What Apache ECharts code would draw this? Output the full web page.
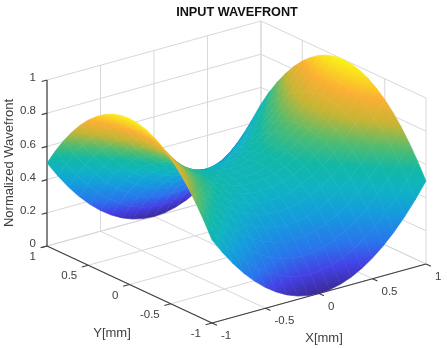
<!DOCTYPE html>
<html><head><meta charset="utf-8">
<style>html,body{margin:0;padding:0;background:#fff}#c{width:447px;height:348px;filter:blur(.5px)}</style>
<script src="https://cdn.jsdelivr.net/npm/echarts@6/dist/echarts.min.js"></script>
</head><body><div id="c"></div>
<script>
const titleText = 'INPUT WAVEFRONT';
const xAxisName = 'X[mm]', yAxisName = 'Y[mm]', zAxisName = 'Normalized Wavefront';
const xTicks = [-1, -0.5, 0, 0.5, 1];
const yTicks = [-1, -0.5, 0, 0.5, 1];
const zTicks = [0, 0.2, 0.4, 0.6, 0.8, 1];
const xGrid = [-1,-.9,-.8,-.7,-.6,-.5,-.4,-.3,-.2,-.1,0,.1,.2,.3,.4,.5,.6,.7,.8,.9,1];
const yGrid = [1,.9,.8,.7,.6,.5,.4,.3,.2,.1,0,-.1,-.2,-.3,-.4,-.5,-.6,-.7,-.8,-.9,-1];
// One row per yGrid value, one column per xGrid value
const zValues = [
[.5,.405,.32,.245,.18,.125,.08,.045,.02,.005,0,.005,.02,.045,.08,.125,.18,.245,.32,.405,.5],
[.595,.5,.415,.34,.275,.22,.175,.14,.115,.1,.095,.1,.115,.14,.175,.22,.275,.34,.415,.5,.595],
[.68,.585,.5,.425,.36,.305,.26,.225,.2,.185,.18,.185,.2,.225,.26,.305,.36,.425,.5,.585,.68],
[.755,.66,.575,.5,.435,.38,.335,.3,.275,.26,.255,.26,.275,.3,.335,.38,.435,.5,.575,.66,.755],
[.82,.725,.64,.565,.5,.445,.4,.365,.34,.325,.32,.325,.34,.365,.4,.445,.5,.565,.64,.725,.82],
[.875,.78,.695,.62,.555,.5,.455,.42,.395,.38,.375,.38,.395,.42,.455,.5,.555,.62,.695,.78,.875],
[.92,.825,.74,.665,.6,.545,.5,.465,.44,.425,.42,.425,.44,.465,.5,.545,.6,.665,.74,.825,.92],
[.955,.86,.775,.7,.635,.58,.535,.5,.475,.46,.455,.46,.475,.5,.535,.58,.635,.7,.775,.86,.955],
[.98,.885,.8,.725,.66,.605,.56,.525,.5,.485,.48,.485,.5,.525,.56,.605,.66,.725,.8,.885,.98],
[.995,.9,.815,.74,.675,.62,.575,.54,.515,.5,.495,.5,.515,.54,.575,.62,.675,.74,.815,.9,.995],
[1,.905,.82,.745,.68,.625,.58,.545,.52,.505,.5,.505,.52,.545,.58,.625,.68,.745,.82,.905,1],
[.995,.9,.815,.74,.675,.62,.575,.54,.515,.5,.495,.5,.515,.54,.575,.62,.675,.74,.815,.9,.995],
[.98,.885,.8,.725,.66,.605,.56,.525,.5,.485,.48,.485,.5,.525,.56,.605,.66,.725,.8,.885,.98],
[.955,.86,.775,.7,.635,.58,.535,.5,.475,.46,.455,.46,.475,.5,.535,.58,.635,.7,.775,.86,.955],
[.92,.825,.74,.665,.6,.545,.5,.465,.44,.425,.42,.425,.44,.465,.5,.545,.6,.665,.74,.825,.92],
[.875,.78,.695,.62,.555,.5,.455,.42,.395,.38,.375,.38,.395,.42,.455,.5,.555,.62,.695,.78,.875],
[.82,.725,.64,.565,.5,.445,.4,.365,.34,.325,.32,.325,.34,.365,.4,.445,.5,.565,.64,.725,.82],
[.755,.66,.575,.5,.435,.38,.335,.3,.275,.26,.255,.26,.275,.3,.335,.38,.435,.5,.575,.66,.755],
[.68,.585,.5,.425,.36,.305,.26,.225,.2,.185,.18,.185,.2,.225,.26,.305,.36,.425,.5,.585,.68],
[.595,.5,.415,.34,.275,.22,.175,.14,.115,.1,.095,.1,.115,.14,.175,.22,.275,.34,.415,.5,.595],
[.5,.405,.32,.245,.18,.125,.08,.045,.02,.005,0,.005,.02,.045,.08,.125,.18,.245,.32,.405,.5]
];
const colorStops = ['#3a2a96','#4440e4','#2a74ec','#149cdc','#0fb2c4','#12b8a6','#50bc70','#c4b534','#fbaf32','#f9f414'];
const colorOffsets = [0, 0.1, 0.2, 0.34, 0.45, 0.55, 0.65, 0.76, 0.87, 1];

// Oblique view: data space -> plot units of the hidden cartesian axes
function project(x, y, z) {
  return [236.5 + 107 * x - 82.5 * y, 255 - 29.5 * x - 38.5 * y - 166 * z];
}
const stops = colorStops.map((c, i) => ({offset: colorOffsets[i], color: c}));
function colorAt(v) {
  v = Math.max(0, Math.min(1, v));
  let i = 0;
  while (i < colorOffsets.length - 2 && v > colorOffsets[i + 1]) i++;
  const a = echarts.color.parse(colorStops[i]), b = echarts.color.parse(colorStops[i + 1]);
  const f = (v - colorOffsets[i]) / (colorOffsets[i + 1] - colorOffsets[i]);
  return 'rgb(' + [0, 1, 2].map(k => Math.round(a[k] + (b[k] - a[k]) * f)).join(',') + ')';
}
// One linear colour ramp per cell, from the mean slope of its two screen diagonals
function cellPaint(P, V) {
  const [A, B, C, D] = P;
  const ux = (B[0] + C[0] - A[0] - D[0]) / 2, uy = (B[1] + C[1] - A[1] - D[1]) / 2;
  const vx = (D[0] + C[0] - A[0] - B[0]) / 2, vy = (D[1] + C[1] - A[1] - B[1]) / 2;
  const du = (V[1] + V[2] - V[0] - V[3]) / 2, dv = (V[3] + V[2] - V[0] - V[1]) / 2;
  const det = ux * vy - uy * vx, mean = (V[0] + V[1] + V[2] + V[3]) / 4;
  if (Math.abs(det) < 0.3) return colorAt(mean);
  const gx = (du * vy - dv * uy) / det, gy = (dv * ux - du * vx) / det, n = gx * gx + gy * gy;
  if (n < 1e-9) return colorAt(mean);
  const cx = (A[0] + B[0] + C[0] + D[0]) / 4, cy = (A[1] + B[1] + C[1] + D[1]) / 4;
  const s = -mean / n, e = (1 - mean) / n;
  return new echarts.graphic.LinearGradient(cx + gx * s, cy + gy * s, cx + gx * e, cy + gy * e, stops, true);
}

// Cells painted back to front
const cells = [];
for (let r = 0; r < yGrid.length - 1; r++)
  for (let c = xGrid.length - 2; c >= 0; c--) cells.push([r, c]);

function renderCell(params, api) {
  const r = api.value(0), c = api.value(1);
  const pt = (ri, ci) => api.coord(project(xGrid[ci], yGrid[ri], zValues[ri][ci]));
  const P = [pt(r, c), pt(r, c + 1), pt(r + 1, c + 1), pt(r + 1, c)];
  const V = [zValues[r][c], zValues[r][c + 1], zValues[r + 1][c + 1], zValues[r + 1][c]];
  const paint = cellPaint(P, V);
  return {type: 'polygon', shape: {points: P}, style: {fill: paint, stroke: paint, lineWidth: 0.6}};
}

// Box, wall grid and ticks
const grey = '#d8d8d8', dark = '#404040';
const segs = [];
zTicks.forEach(z => { segs.push([-1, 1, z, 1, 1, z, grey]); segs.push([1, 1, z, 1, -1, z, grey]); });
xTicks.forEach(x => { segs.push([x, 1, 0, x, -1, 0, grey]); segs.push([x, 1, 0, x, 1, 1, grey]); });
yTicks.forEach(y => { segs.push([-1, y, 0, 1, y, 0, grey]); segs.push([1, y, 0, 1, y, 1, grey]); });
segs.push([-1, 1, 0, -1, 1, 1, dark], [-1, 1, 0, -1, -1, 0, dark], [-1, -1, 0, 1, -1, 0, dark]);
zTicks.forEach(z => segs.push([-1, 1, z, -1.05, 1, z, dark]));
yTicks.forEach(y => segs.push([-1, y, 0, -1.06, y, 0, dark]));
xTicks.forEach(x => segs.push([x, -1, 0, x, -1.06, 0, dark]));

function renderSeg(params, api) {
  const s = segs[params.dataIndex];
  const a = api.coord(project(s[0], s[1], s[2])), b = api.coord(project(s[3], s[4], s[5]));
  return {type: 'line', shape: {x1: a[0], y1: a[1], x2: b[0], y2: b[1]},
    style: {stroke: s[6], lineWidth: s[6] === dark ? 1.2 : 1}};
}

// Labels
const labels = [];
const fmt = v => String(v);
zTicks.forEach(z => { const p = project(-1, 1, z); labels.push({t: fmt(z), x: p[0] - 11, y: p[1] - 2, a: 'right'}); });
yTicks.forEach(y => { const p = project(-1, y, 0); labels.push({t: fmt(y), x: p[0] - 11, y: p[1] + 11, a: 'right'}); });
xTicks.forEach(x => { const p = project(x, -1, 0); labels.push({t: fmt(x), x: p[0] + 9, y: p[1] + 13, a: 'left'}); });
labels.push({t: yAxisName, x: 112, y: 333, a: 'center', s: 13});
labels.push({t: xAxisName, x: 324, y: 338, a: 'center', s: 13});
labels.push({t: zAxisName, x: 9, y: 163, a: 'center', s: 13, rot: Math.PI / 2});
labels.push({t: titleText, x: 237, y: 12, a: 'center', s: 12.7, w: 'bold', c: '#111111'});

function renderLabel(params, api) {
  const l = labels[params.dataIndex], p = api.coord([l.x, l.y]);
  return {type: 'text', x: p[0], y: p[1], rotation: l.rot || 0, style: {text: l.t, textAlign: l.a, textVerticalAlign: 'middle',
    fill: l.c || dark, font: (l.w || 'normal') + ' ' + (l.s || 11.5) + 'px "Liberation Sans", Arial, sans-serif'}};
}

const chart = echarts.init(document.getElementById('c'), null, {renderer: 'canvas'});
chart.setOption({
  animation: false,
  backgroundColor: '#ffffff',
  grid: {left: 0, right: 0, top: 0, bottom: 0},
  xAxis: {type: 'value', min: 0, max: 447, show: false},
  yAxis: {type: 'value', min: 0, max: 348, inverse: true, show: false},
  series: [
    {type: 'custom', silent: true, z: 1, renderItem: renderSeg, data: segs.map((s, i) => [i]), encode: {x: [], y: []}, clip: false},
    {type: 'custom', silent: true, z: 2, renderItem: renderCell, data: cells, encode: {x: [], y: []}, clip: false, progressive: 0},
    {type: 'custom', silent: true, z: 3, renderItem: renderLabel, data: labels.map((s, i) => [i]), encode: {x: [], y: []}, clip: false}
  ]
});
</script></body></html>
